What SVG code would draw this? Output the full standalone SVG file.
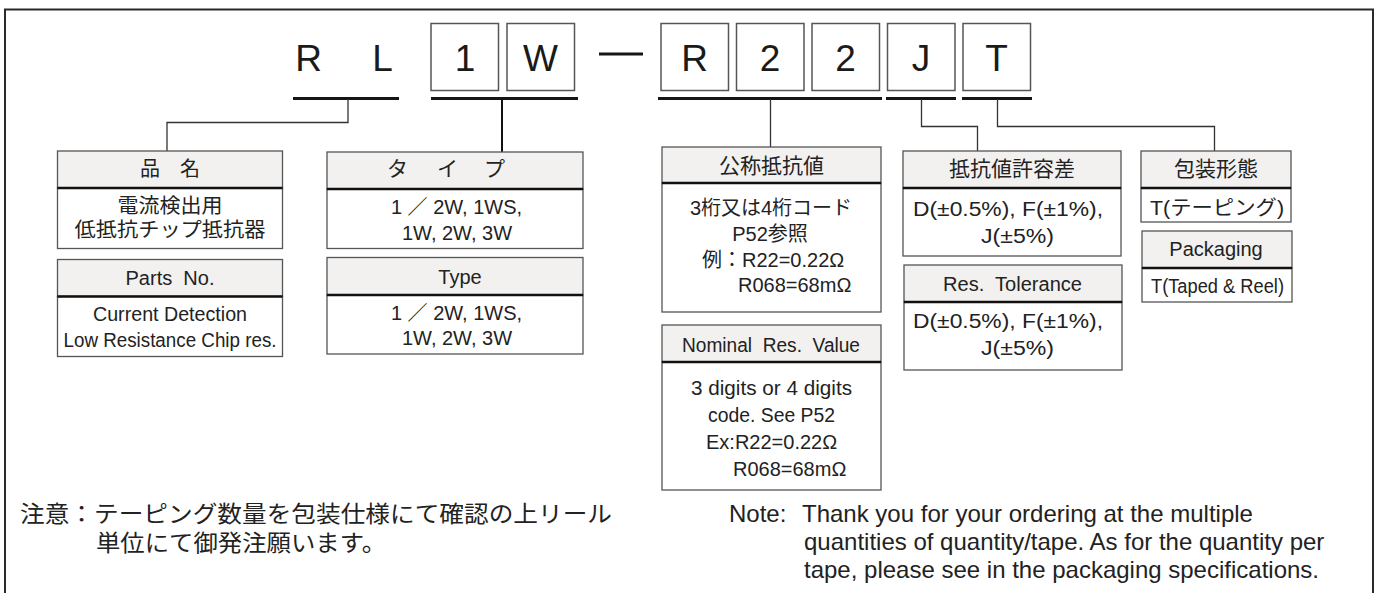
<svg xmlns="http://www.w3.org/2000/svg" width="1386" height="593" viewBox="0 0 1386 593">
<style>
.frame{fill:none;stroke:#2a2a2a;stroke-width:2}
.cb{fill:#fff;stroke:#555;stroke-width:1.5}
.ul{stroke:#151515;stroke-width:3}
.cn{fill:none;stroke:#333;stroke-width:1.3}
.cn2{fill:none;stroke:#111;stroke-width:2}
.hd{fill:#f2f1ef;stroke:#555;stroke-width:1.3}
.bd{fill:#fff;stroke:#555;stroke-width:1.3}
.dv{stroke:#111;stroke-width:2.5}
text{font-family:'Liberation Sans','Noto Sans CJK JP',sans-serif;fill:#222;font-size:20px}
.j{font-family:'Noto Sans CJK JP',sans-serif;font-size:21px}
.m{text-anchor:middle}
.code{font-size:37px;text-anchor:middle;fill:#1a1a1a}
.note{font-size:24px}
.jn{font-family:'Noto Sans CJK JP',sans-serif;font-size:23px}
</style>
<path class="frame" d="M5,600 V9.5 H1373 V600"/>

<g id="code">
<text class="code" x="308.5" y="71">R</text>
<text class="code" x="382.5" y="71">L</text>
<rect class="cb" x="431" y="23.5" width="67.5" height="67"/>
<rect class="cb" x="507" y="23.5" width="67.5" height="67"/>
<rect class="cb" x="661" y="23.5" width="67.5" height="67"/>
<rect class="cb" x="736.5" y="23.5" width="67.5" height="67"/>
<rect class="cb" x="812" y="23.5" width="67.5" height="67"/>
<rect class="cb" x="887.5" y="23.5" width="67.5" height="67"/>
<rect class="cb" x="963" y="23.5" width="67.5" height="67"/>
<text class="code" x="465" y="71">1</text>
<text class="code" x="540.5" y="71">W</text>
<line x1="599" y1="54" x2="643" y2="54" stroke="#151515" stroke-width="3"/>
<text class="code" x="694.5" y="71">R</text>
<text class="code" x="770" y="71">2</text>
<text class="code" x="845.5" y="71">2</text>
<text class="code" x="921" y="71">J</text>
<text class="code" x="996.5" y="71">T</text>
<line class="ul" x1="293" y1="98.5" x2="399" y2="98.5"/>
<line class="ul" x1="431" y1="98.5" x2="578" y2="98.5"/>
<line class="ul" x1="658" y1="98.5" x2="882" y2="98.5"/>
<line class="ul" x1="886" y1="98.5" x2="956" y2="98.5"/>
<line class="ul" x1="962" y1="98.5" x2="1032" y2="98.5"/>
</g>

<g id="connectors">
<path class="cn" d="M348,99 V122.5 H167 V151"/>
<path class="cn2" d="M502,99 V152"/>
<path class="cn" d="M770.5,99 V147"/>
<path class="cn" d="M921.5,99 V126.5 H977.5 V151"/>
<path class="cn" d="M997.5,99 V126.5 H1214.5 V151"/>
</g>

<g id="hinmei">
<rect class="hd" x="57.5" y="151" width="225" height="37"/>
<rect class="bd" x="57.5" y="188" width="225" height="60.5"/>
<line class="dv" x1="57.5" y1="188" x2="282.5" y2="188"/>
<text class="j m" x="170" y="176" style="font-size:20px">品　名</text>
<text class="j m" x="170" y="213" style="font-size:20px" textLength="105" lengthAdjust="spacingAndGlyphs">電流検出用</text>
<text class="j m" x="170" y="237" style="font-size:20px" textLength="191" lengthAdjust="spacingAndGlyphs">低抵抗チップ抵抗器</text>
</g>

<g id="partsno">
<rect class="hd" x="57.5" y="259.5" width="225" height="37"/>
<rect class="bd" x="57.5" y="296.5" width="225" height="60"/>
<line class="dv" x1="57.5" y1="296.5" x2="282.5" y2="296.5"/>
<text class="m" x="170" y="285" xml:space="preserve">Parts  No.</text>
<text class="m" x="170" y="321" textLength="154" lengthAdjust="spacingAndGlyphs">Current Detection</text>
<text class="m" x="170" y="347" textLength="213" lengthAdjust="spacingAndGlyphs">Low Resistance Chip res.</text>
</g>

<g id="type-jp">
<rect class="hd" x="327" y="152" width="256" height="37"/>
<rect class="bd" x="327" y="189" width="256" height="59.5"/>
<line class="dv" x1="327" y1="189" x2="583" y2="189"/>
<text class="j" x="387 437 484" y="176">タイプ</text>
<text class="m" x="456.5" y="214">1 ／ 2W, 1WS,</text>
<text class="m" x="457" y="240">1W, 2W, 3W</text>
</g>

<g id="type-en">
<rect class="hd" x="327" y="257.5" width="256" height="37.5"/>
<rect class="bd" x="327" y="295" width="256" height="59"/>
<line class="dv" x1="327" y1="295" x2="583" y2="295"/>
<text class="m" x="460" y="284">Type</text>
<text class="m" x="456.5" y="320">1 ／ 2W, 1WS,</text>
<text class="m" x="457" y="345">1W, 2W, 3W</text>
</g>

<g id="nominal-jp">
<rect class="hd" x="662" y="147" width="219" height="36"/>
<rect class="bd" x="662" y="183" width="219" height="129"/>
<line class="dv" x1="662" y1="183" x2="881" y2="183"/>
<text class="j m" x="771.5" y="173">公称抵抗値</text>
<text class="m" x="771" y="215">3桁又は4桁コード</text>
<text class="m" x="770" y="241">P52参照</text>
<text x="702" y="267">例：R22=0.22Ω</text>
<text x="738" y="292">R068=68mΩ</text>
</g>

<g id="nominal-en">
<rect class="hd" x="662" y="325" width="219" height="37"/>
<rect class="bd" x="662" y="362" width="219" height="128"/>
<line class="dv" x1="662" y1="362" x2="881" y2="362"/>
<text class="m" x="771" y="352" xml:space="preserve" textLength="178" lengthAdjust="spacingAndGlyphs">Nominal  Res.  Value</text>
<text class="m" x="771.5" y="395" textLength="161" lengthAdjust="spacingAndGlyphs">3 digits or 4 digits</text>
<text class="m" x="771.5" y="422" textLength="127" lengthAdjust="spacingAndGlyphs">code. See P52</text>
<text x="706" y="449">Ex:R22=0.22Ω</text>
<text x="733" y="476">R068=68mΩ</text>
</g>

<g id="tolerance-jp">
<rect class="hd" x="903" y="151" width="218" height="37"/>
<rect class="bd" x="903" y="188" width="218" height="68"/>
<line class="dv" x1="903" y1="188" x2="1121" y2="188"/>
<text class="j m" x="1012" y="176">抵抗値許容差</text>
<text x="913" y="216" textLength="190" lengthAdjust="spacingAndGlyphs">D(±0.5%), F(±1%),</text>
<text x="981" y="243" textLength="73" lengthAdjust="spacingAndGlyphs">J(±5%)</text>
</g>

<g id="tolerance-en">
<rect class="hd" x="904" y="265" width="218" height="37"/>
<rect class="bd" x="904" y="302" width="218" height="68"/>
<line class="dv" x1="904" y1="302" x2="1122" y2="302"/>
<text class="m" x="1012.5" y="291" xml:space="preserve" textLength="139" lengthAdjust="spacingAndGlyphs">Res.  Tolerance</text>
<text x="913" y="328" textLength="190" lengthAdjust="spacingAndGlyphs">D(±0.5%), F(±1%),</text>
<text x="981" y="355" textLength="73" lengthAdjust="spacingAndGlyphs">J(±5%)</text>
</g>

<g id="packaging-jp">
<rect class="hd" x="1141" y="151" width="150" height="37"/>
<rect class="bd" x="1141" y="188" width="150" height="34"/>
<line class="dv" x1="1141" y1="188" x2="1291" y2="188"/>
<text class="j m" x="1216" y="176">包装形態</text>
<text class="m" x="1217" y="215" textLength="134" lengthAdjust="spacingAndGlyphs">T(テーピング)</text>
</g>

<g id="packaging-en">
<rect class="hd" x="1142" y="231" width="150" height="37"/>
<rect class="bd" x="1142" y="268" width="150" height="34"/>
<line class="dv" x1="1142" y1="268" x2="1292" y2="268"/>
<text class="m" x="1216" y="256">Packaging</text>
<text class="m" x="1217.5" y="293" textLength="133" lengthAdjust="spacingAndGlyphs">T(Taped &amp; Reel)</text>
</g>

<g id="note-jp">
<text class="jn" x="20" y="522" textLength="592" lengthAdjust="spacingAndGlyphs">注意：テーピング数量を包装仕様にて確認の上リール</text>
<text class="jn" x="96" y="551" textLength="290" lengthAdjust="spacingAndGlyphs">単位にて御発注願います。</text>
</g>

<g id="note-en">
<text class="note" x="729" y="522">Note:</text>
<text class="note" x="802" y="522">Thank you for your ordering at the multiple</text>
<text class="note" x="804" y="550">quantities of quantity/tape. As for the quantity per</text>
<text class="note" x="804" y="578">tape, please see in the packaging specifications.</text>
</g>
</svg>
